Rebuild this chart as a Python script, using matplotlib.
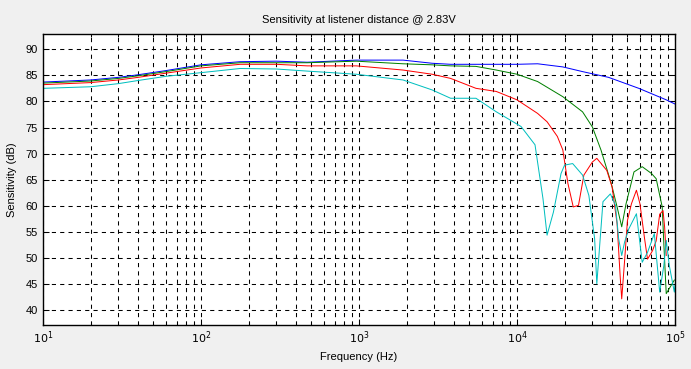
import matplotlib
matplotlib.use('Agg')
import matplotlib.pyplot as plt
import numpy as np

plt.rcParams['font.family'] = ['Liberation Sans', 'DejaVu Sans']

# frequency (Hz) / sensitivity (dB)
blue_f = [10, 20, 30, 40, 60, 100, 177, 300, 470, 960, 1900, 2900, 3800, 5500, 7400,
          10000, 13500, 19500, 26000, 38000, 59000, 88000, 100000]
blue_db = [83.7, 84.1, 84.6, 85.1, 85.9, 87.0, 87.6, 87.7, 87.5, 87.9, 87.9, 87.3, 87.1, 87.1, 87.1,
           87.1, 87.2, 86.6, 85.7, 84.6, 82.5, 80.3, 79.5]

green_f = [10, 20, 30, 40, 60, 100, 177, 300, 470, 960, 1900, 2900, 3800, 5500, 7400,
           10000, 13500, 19500, 26000, 30000, 34000, 39500, 43000, 46000, 49000, 55000,
           62000, 71000, 76000, 83000, 85000, 88000, 99000]
green_db = [83.5, 83.9, 84.4, 84.9, 85.7, 86.8, 87.4, 87.4, 87.4, 87.7, 87.2, 87.0, 86.8, 86.7, 86.0,
            85.2, 83.8, 80.9, 78.0, 75.1, 70.7, 64.3, 59.8, 56.0, 60.4, 66.5,
            67.5, 66.2, 65.2, 59.8, 52.7, 43.2, 45.8]

red_f = [10, 20, 30, 40, 60, 100, 177, 300, 470, 960, 1900, 2900, 3800, 5500, 7400,
         10000, 13500, 15500, 18000, 19500, 21000, 22700, 24500, 26500, 30000, 32000,
         37000, 40000, 43000, 45000, 46000, 48000, 50000, 53000, 57000, 60000, 64000,
         67000, 72000, 76000, 80000, 84000, 86000, 88000]
red_db = [83.2, 83.6, 84.1, 84.6, 85.4, 86.4, 87.1, 87.1, 86.8, 86.8, 86.0, 85.2, 84.4, 82.5, 81.9,
          80.3, 77.7, 76.1, 73.3, 70.7, 64.3, 59.8, 60.1, 65.9, 68.4, 69.1,
          66.8, 63.6, 56.6, 46.4, 42.2, 49.6, 57.2, 60.4, 63.0, 60.4, 54.0,
          49.8, 51.4, 53.3, 58.4, 59.1, 55.9, 50.5]

cyan_f = [10, 20, 30, 40, 60, 100, 177, 300, 470, 960, 1900, 2900, 3800, 5500, 7400,
          10600, 13000, 14600, 15500, 17000, 19000, 20000, 22500, 26000, 28500, 31000,
          32000, 35000, 39000, 42000, 44000, 46000, 48000, 51000, 57000, 62000, 67000,
          74000, 80000, 85000, 88000, 92000, 99000, 100000]
cyan_db = [82.5, 82.8, 83.4, 84.0, 84.8, 85.5, 86.3, 86.2, 85.8, 85.2, 84.1, 82.2, 80.6, 80.6, 78.0,
           75.2, 71.7, 61.4, 54.4, 58.8, 66.2, 67.8, 68.1, 65.9, 62.0, 53.7,
           45.1, 60.8, 62.3, 60.1, 53.7, 50.5, 53.1, 55.6, 58.5, 49.2, 51.1,
           54.7, 43.5, 48.6, 53.4, 48.6, 43.5, 44.8]

fig = plt.figure(figsize=(6.91, 3.69), dpi=100, facecolor='#f0f0f0')
ax = fig.add_axes([43 / 691, 1 - 325 / 369, 632 / 691, 291 / 369])
ax.set_facecolor('white')

lw = 0.72
ax.semilogx(blue_f, blue_db, color='#0000ff', linewidth=lw)
ax.semilogx(green_f, green_db, color='#008000', linewidth=lw)
ax.semilogx(red_f, red_db, color='#ff0000', linewidth=lw)
ax.semilogx(cyan_f, cyan_db, color='#00bfbf', linewidth=lw)

ax.set_xlim(10, 100000)
ax.set_ylim(37.2, 92.9)
ax.set_yticks(np.arange(40, 91, 5))
ax.set_xticks([10, 100, 1000, 10000, 100000])
ax.set_xticklabels([r'$10^1$', r'$10^2$', r'$10^3$', r'$10^4$', r'$10^5$'])

ax.grid(True, which='major', color='black', linestyle=(0, (4, 4)), linewidth=0.75)
ax.grid(True, which='minor', axis='x', color='black', linestyle=(0, (4, 4)), linewidth=0.75)
ax.tick_params(which='both', direction='in', top=True, right=True, labelsize=8, width=0.75)
ax.tick_params(which='major', length=4)
ax.tick_params(which='minor', length=2)
for s in ax.spines.values():
    s.set_linewidth(1)

ax.set_title('Sensitivity at listener distance @ 2.83V', fontsize=8, pad=8)
ax.set_xlabel('Frequency (Hz)', fontsize=8, labelpad=4)
ax.set_ylabel('Sensitivity (dB)', fontsize=8, labelpad=6)

fig.savefig('out.png', dpi=100, facecolor=fig.get_facecolor())
